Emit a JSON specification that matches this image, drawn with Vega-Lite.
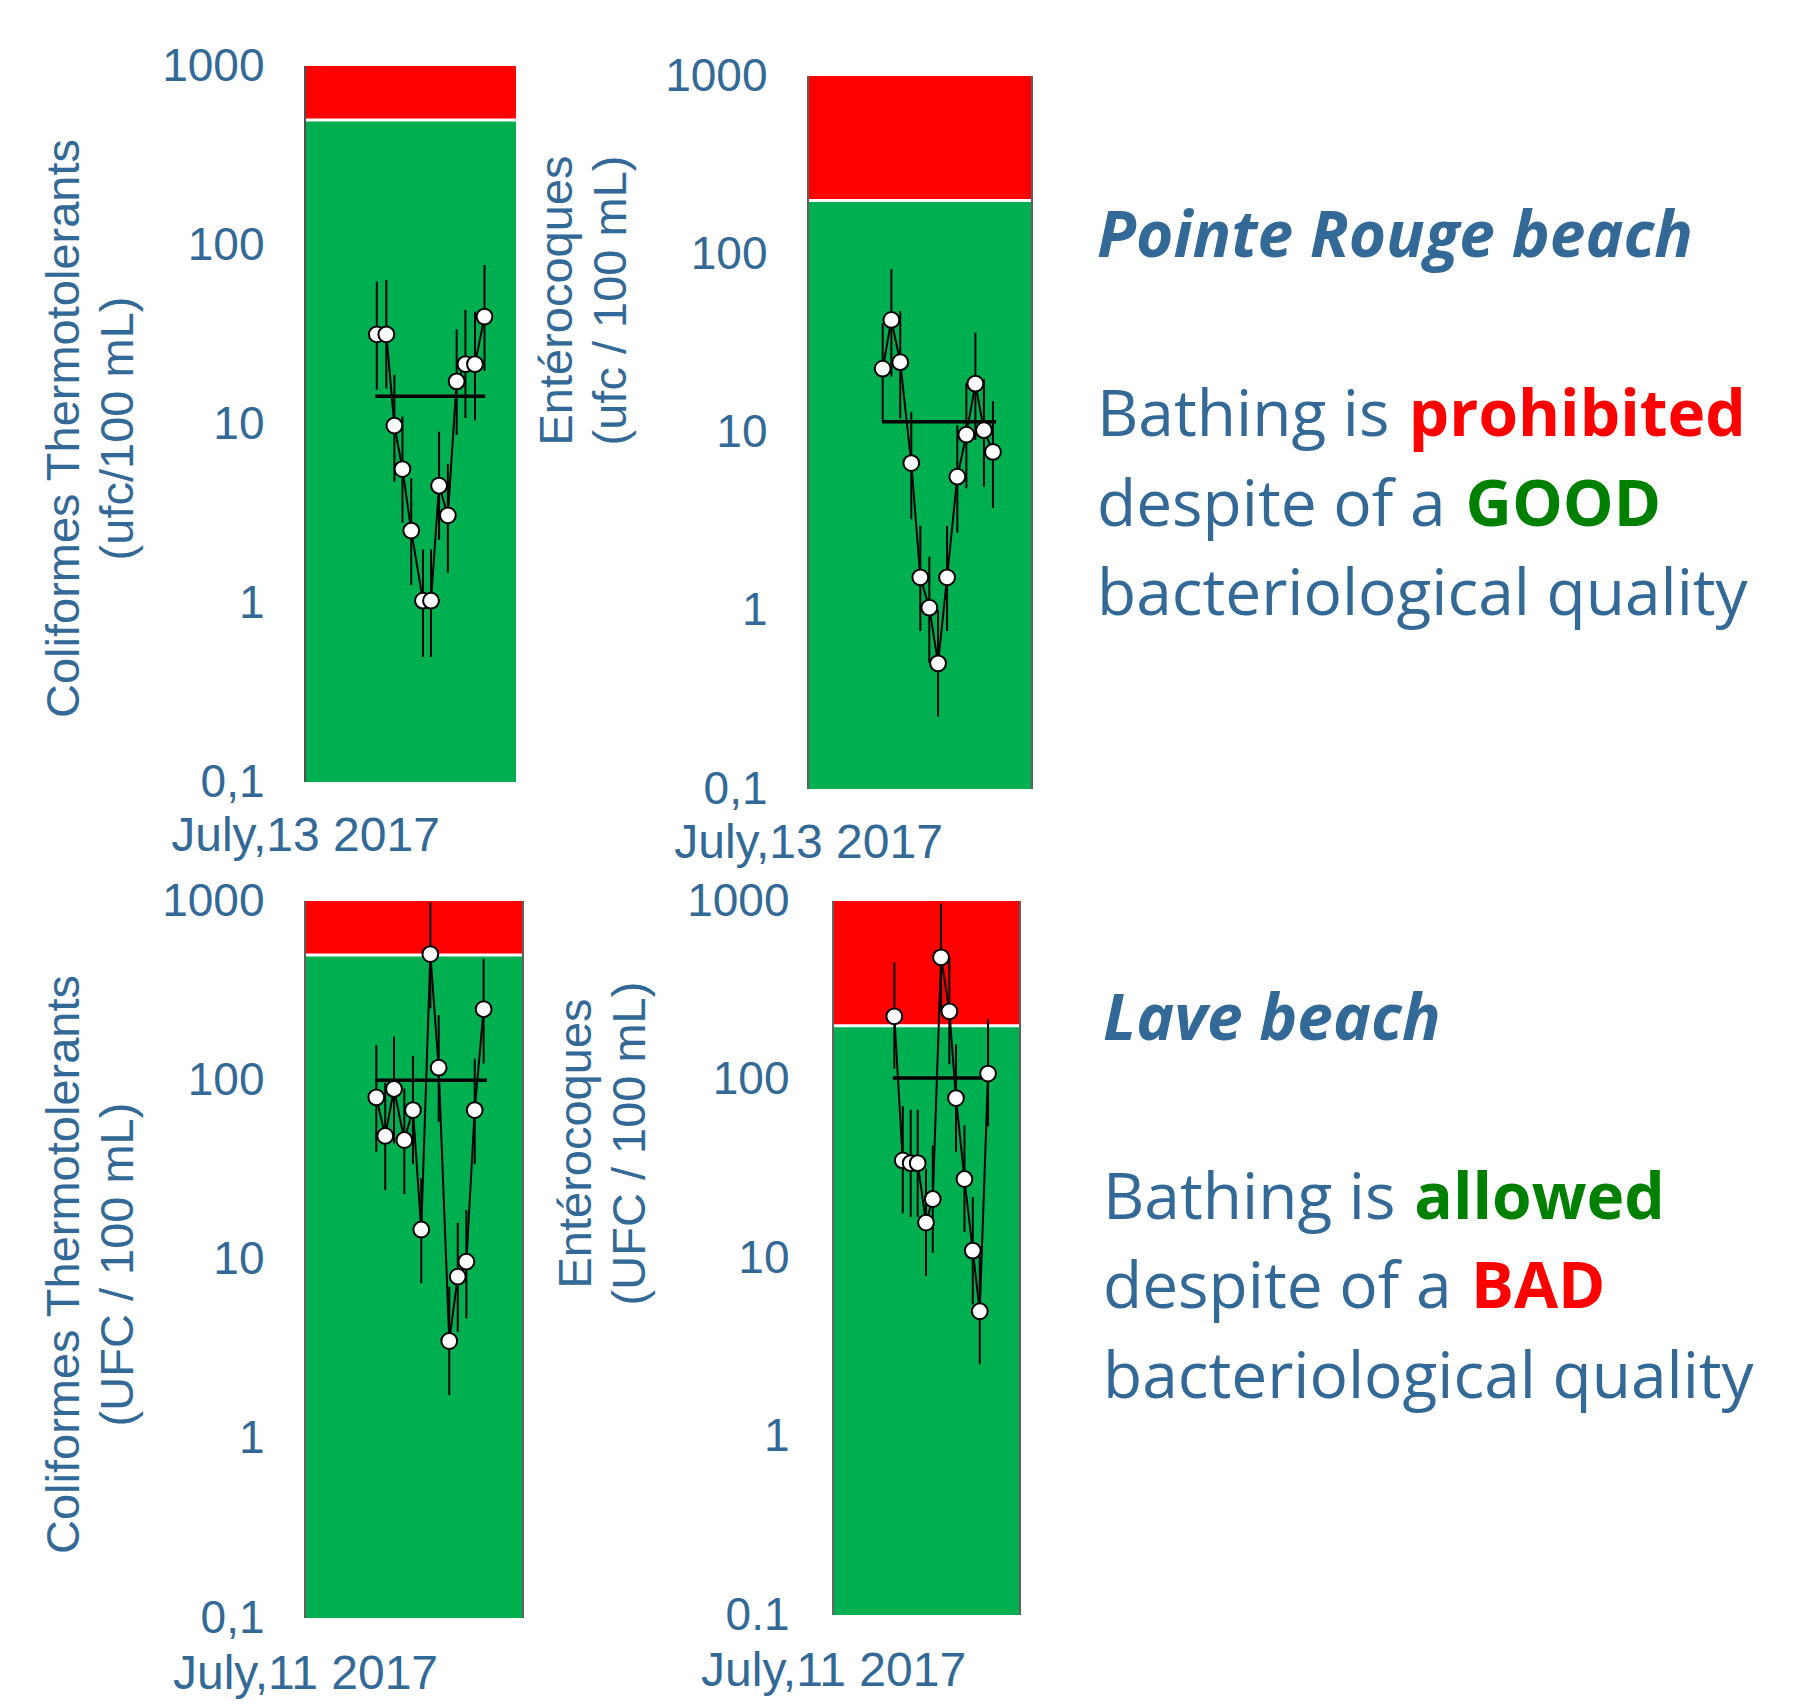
{
  "$schema": "https://vega.github.io/schema/vega-lite/v6.json",
  "background": "white",
  "padding": {"left": 40, "top": 43, "right": 10, "bottom": 10},
  "config": {"view": {"stroke": null}},
  "columns": 2,
  "align": {"row": "each", "column": "none"},
  "bounds": "flush",
  "spacing": {"row": 112, "column": 285},
  "datasets": {
    "frame_p1": [{"start": "2017-07-13T00:00", "end": "2017-07-14T00:00", "bottom": 0.1, "top": 1000, "threshold": 500}],
    "frame_p2": [{"start": "2017-07-13T00:00", "end": "2017-07-14T00:00", "bottom": 0.1, "top": 1000, "threshold": 200}],
    "frame_p3": [{"start": "2017-07-11T00:00", "end": "2017-07-12T00:00", "bottom": 0.1, "top": 1000, "threshold": 500}],
    "frame_p4": [{"start": "2017-07-11T00:00", "end": "2017-07-12T00:00", "bottom": 0.1, "top": 1000, "threshold": 200}],
    "mean_p1": [{"start": "2017-07-13T08:00", "end": "2017-07-13T20:30", "mean": 14.3}],
    "mean_p2": [{"start": "2017-07-13T07:56", "end": "2017-07-13T20:09", "mean": 11.5}],
    "mean_p3": [{"start": "2017-07-11T07:44", "end": "2017-07-11T20:02", "mean": 100}],
    "mean_p4": [{"start": "2017-07-11T07:40", "end": "2017-07-11T19:59", "mean": 102}],
    "pts_p1": [
      {"t": "2017-07-13T08:10", "v": 31.7, "lo": 15.5, "hi": 62.4},
      {"t": "2017-07-13T09:15", "v": 31.7, "lo": 15.8, "hi": 63.7},
      {"t": "2017-07-13T10:10", "v": 9.8, "lo": 4.76, "hi": 18.8},
      {"t": "2017-07-13T11:05", "v": 5.6, "lo": 2.81, "hi": 11.0},
      {"t": "2017-07-13T12:05", "v": 2.54, "lo": 1.26, "hi": 4.97},
      {"t": "2017-07-13T13:25", "v": 1.03, "lo": 0.5, "hi": 1.99},
      {"t": "2017-07-13T14:20", "v": 1.03, "lo": 0.5, "hi": 1.99},
      {"t": "2017-07-13T15:15", "v": 4.52, "lo": 2.25, "hi": 9.06},
      {"t": "2017-07-13T16:15", "v": 3.09, "lo": 1.48, "hi": 5.98},
      {"t": "2017-07-13T17:15", "v": 17.3, "lo": 8.68, "hi": 33.8},
      {"t": "2017-07-13T18:15", "v": 21.6, "lo": 10.8, "hi": 43.4},
      {"t": "2017-07-13T19:20", "v": 21.6, "lo": 10.5, "hi": 42.4},
      {"t": "2017-07-13T20:25", "v": 39.8, "lo": 19.8, "hi": 77.3}
    ],
    "pts_p2": [
      {"t": "2017-07-13T08:00", "v": 22.8, "lo": 11.5, "hi": 41},
      {"t": "2017-07-13T08:56", "v": 42.8, "lo": 20.6, "hi": 82.3},
      {"t": "2017-07-13T09:53", "v": 24.8, "lo": 12.0, "hi": 48},
      {"t": "2017-07-13T11:04", "v": 6.74, "lo": 3.26, "hi": 13.0},
      {"t": "2017-07-13T12:02", "v": 1.54, "lo": 0.77, "hi": 2.99},
      {"t": "2017-07-13T13:00", "v": 1.04, "lo": 0.51, "hi": 2.01},
      {"t": "2017-07-13T13:56", "v": 0.507, "lo": 0.255, "hi": 1.01},
      {"t": "2017-07-13T14:54", "v": 1.54, "lo": 0.77, "hi": 2.99},
      {"t": "2017-07-13T16:00", "v": 5.65, "lo": 2.74, "hi": 11.0},
      {"t": "2017-07-13T16:58", "v": 9.72, "lo": 4.86, "hi": 18.9},
      {"t": "2017-07-13T17:56", "v": 18.8, "lo": 9.08, "hi": 36.3},
      {"t": "2017-07-13T18:51", "v": 10.3, "lo": 4.97, "hi": 19.9},
      {"t": "2017-07-13T19:49", "v": 7.78, "lo": 3.78, "hi": 15.0}
    ],
    "pts_p3": [
      {"t": "2017-07-11T07:51", "v": 80.3, "lo": 39.9, "hi": 157},
      {"t": "2017-07-11T08:50", "v": 48.9, "lo": 24.4, "hi": 97},
      {"t": "2017-07-11T09:48", "v": 89.4, "lo": 44.5, "hi": 175},
      {"t": "2017-07-11T10:56", "v": 46.4, "lo": 23.2, "hi": 90},
      {"t": "2017-07-11T11:53", "v": 68.2, "lo": 34, "hi": 136.5},
      {"t": "2017-07-11T12:48", "v": 14.7, "lo": 7.37, "hi": 28.4},
      {"t": "2017-07-11T13:48", "v": 506, "lo": 252, "hi": 980},
      {"t": "2017-07-11T14:43", "v": 117.5, "lo": 58.7, "hi": 231},
      {"t": "2017-07-11T15:53", "v": 3.51, "lo": 1.75, "hi": 7.05},
      {"t": "2017-07-11T16:49", "v": 8.02, "lo": 3.95, "hi": 16.0},
      {"t": "2017-07-11T17:46", "v": 9.72, "lo": 4.7, "hi": 18.9},
      {"t": "2017-07-11T18:41", "v": 68.2, "lo": 34, "hi": 132},
      {"t": "2017-07-11T19:40", "v": 249, "lo": 124, "hi": 475}
    ],
    "pts_p4": [
      {"t": "2017-07-11T07:52", "v": 226, "lo": 115, "hi": 453},
      {"t": "2017-07-11T08:57", "v": 35.2, "lo": 17.8, "hi": 70.8},
      {"t": "2017-07-11T09:58", "v": 34, "lo": 17.0, "hi": 67.6},
      {"t": "2017-07-11T10:52", "v": 34, "lo": 17.0, "hi": 67.6},
      {"t": "2017-07-11T11:56", "v": 15.8, "lo": 7.94, "hi": 31.6},
      {"t": "2017-07-11T12:48", "v": 21.4, "lo": 10.7, "hi": 42.7},
      {"t": "2017-07-11T13:52", "v": 483, "lo": 244, "hi": 970},
      {"t": "2017-07-11T14:56", "v": 241, "lo": 121.6, "hi": 483},
      {"t": "2017-07-11T15:47", "v": 78.7, "lo": 39.4, "hi": 157},
      {"t": "2017-07-11T16:52", "v": 27.7, "lo": 14.0, "hi": 55.3},
      {"t": "2017-07-11T17:56", "v": 11.0, "lo": 5.5, "hi": 21.9},
      {"t": "2017-07-11T18:50", "v": 5.03, "lo": 2.54, "hi": 10.2},
      {"t": "2017-07-11T19:54", "v": 108, "lo": 54.6, "hi": 217}
    ],
    "text_pr": [
      {"line": 0, "col": 0, "text": "Pointe Rouge beach", "role": "heading"},
      {"line": 2, "col": 0, "text": "Bathing is", "role": "body"},
      {"line": 2, "col": 11, "text": "prohibited", "role": "bad"},
      {"line": 3, "col": 0, "text": "despite of a", "role": "body"},
      {"line": 3, "col": 13, "text": "GOOD", "role": "good"},
      {"line": 4, "col": 0, "text": "bacteriological quality", "role": "body"}
    ],
    "text_lave": [
      {"line": 0, "col": 0, "text": "Lave beach", "role": "heading"},
      {"line": 2, "col": 0, "text": "Bathing is", "role": "body"},
      {"line": 2, "col": 11, "text": "allowed", "role": "good"},
      {"line": 3, "col": 0, "text": "despite of a", "role": "body"},
      {"line": 3, "col": 13, "text": "BAD", "role": "bad"},
      {"line": 4, "col": 0, "text": "bacteriological quality", "role": "body"}
    ]
  },
  "concat": [
    {
      "width": 211, "height": 716,
      "layer": [
        {"data": {"name": "frame_p1"}, "mark": {"type": "rect", "fill": "#00B050"},
          "encoding": {
            "x": {"field": "start", "type": "temporal",
              "scale": {"domain": [{"year": 2017, "month": 7, "date": 13}, {"year": 2017, "month": 7, "date": 14}]},
              "axis": {"values": [{"year": 2017, "month": 7, "date": 13}], "format": "%B,%d %Y", "labelFlush": false, "labelOverlap": false, "labelBound": false, "labelLimit": 0, "ticks": false, "domain": false, "grid": false, "labelFont": "Liberation Sans", "labelFontSize": 48, "labelColor": "#336996", "labelPadding": 30, "title": null}},
            "x2": {"field": "end"},
            "y": {"field": "bottom", "type": "quantitative",
              "scale": {"type": "log", "domain": [0.1, 1000], "nice": false},
              "axis": {"values": [0.1, 1, 10, 100, 1000], "labelExpr": "datum.value < 1 ? '0,1' : '' + datum.value", "ticks": false, "domain": false, "grid": false, "labelFont": "Liberation Sans", "labelFontSize": 46, "labelColor": "#336996", "labelPadding": 41,
                "title": ["Coliformes Thermotolerants", "(ufc/100 mL)"], "titleFont": "Liberation Sans", "titleFontSize": 47, "titleFontWeight": "normal", "titleColor": "#336996", "titleLineHeight": 54, "titleAngle": 270, "titleBaseline": "bottom", "titleAlign": "center", "titleX": -217, "titleY": 362}},
            "y2": {"field": "threshold"}}},
        {"data": {"name": "frame_p1"}, "mark": {"type": "rect", "fill": "#FF0000"},
          "encoding": {"x": {"field": "start", "type": "temporal"}, "x2": {"field": "end"}, "y": {"field": "threshold", "type": "quantitative"}, "y2": {"field": "top"}}},
        {"data": {"name": "frame_p1"}, "mark": {"type": "rule", "stroke": "white", "strokeWidth": 3},
          "encoding": {"x": {"field": "start", "type": "temporal"}, "x2": {"field": "end"}, "y": {"field": "threshold", "type": "quantitative"}}},
        {"data": {"name": "frame_p1"}, "mark": {"type": "rule", "stroke": "#505050", "strokeWidth": 2},
          "encoding": {"x": {"field": "start", "type": "temporal"}, "y": {"field": "bottom", "type": "quantitative"}, "y2": {"field": "top"}}},
        {"data": {"name": "pts_p1"}, "mark": {"type": "rule", "stroke": "black", "strokeWidth": 2},
          "encoding": {"x": {"field": "t", "type": "temporal"}, "y": {"field": "lo", "type": "quantitative"}, "y2": {"field": "hi"}}},
        {"data": {"name": "pts_p1"}, "mark": {"type": "line", "stroke": "black", "strokeWidth": 2},
          "encoding": {"x": {"field": "t", "type": "temporal"}, "y": {"field": "v", "type": "quantitative"}}},
        {"data": {"name": "mean_p1"}, "mark": {"type": "rule", "stroke": "black", "strokeWidth": 3.5},
          "encoding": {"x": {"field": "start", "type": "temporal"}, "x2": {"field": "end"}, "y": {"field": "mean", "type": "quantitative"}}},
        {"data": {"name": "pts_p1"}, "mark": {"type": "circle", "size": 250, "fill": "white", "stroke": "black", "strokeWidth": 2, "opacity": 1},
          "encoding": {"x": {"field": "t", "type": "temporal"}, "y": {"field": "v", "type": "quantitative"}}}
      ]
    },
    {
      "width": 224, "height": 723,
      "resolve": {"scale": {"x": "independent", "y": "independent"}},
      "layer": [
        {"layer": [
          {"data": {"name": "frame_p2"}, "mark": {"type": "rect", "fill": "#00B050"},
            "encoding": {
              "x": {"field": "start", "type": "temporal",
                "scale": {"domain": [{"year": 2017, "month": 7, "date": 13}, {"year": 2017, "month": 7, "date": 14}]},
                "axis": {"values": [{"year": 2017, "month": 7, "date": 13}], "format": "%B,%d %Y", "labelFlush": false, "labelOverlap": false, "labelBound": false, "labelLimit": 0, "ticks": false, "domain": false, "grid": false, "labelFont": "Liberation Sans", "labelFontSize": 48, "labelColor": "#336996", "labelPadding": 30, "title": null}},
              "x2": {"field": "end"},
              "y": {"field": "bottom", "type": "quantitative",
                "scale": {"type": "log", "domain": [0.1, 1138], "nice": false},
                "axis": {"values": [0.1, 1, 10, 100, 1000], "labelExpr": "datum.value < 1 ? '0,1' : '' + datum.value", "ticks": false, "domain": false, "grid": false, "labelFont": "Liberation Sans", "labelFontSize": 46, "labelColor": "#336996", "labelPadding": 41,
                  "title": ["Entérocoques", "(ufc / 100 mL)"], "titleFont": "Liberation Sans", "titleFontSize": 47, "titleFontWeight": "normal", "titleColor": "#336996", "titleLineHeight": 54, "titleAngle": 270, "titleBaseline": "bottom", "titleAlign": "center", "titleX": -227, "titleY": 234}},
              "y2": {"field": "threshold"}}},
          {"data": {"name": "frame_p2"}, "mark": {"type": "rect", "fill": "#FF0000"},
            "encoding": {"x": {"field": "start", "type": "temporal"}, "x2": {"field": "end"}, "y": {"field": "threshold", "type": "quantitative"}, "y2": {"field": "top"}}},
          {"data": {"name": "frame_p2"}, "mark": {"type": "rule", "stroke": "white", "strokeWidth": 3},
            "encoding": {"x": {"field": "start", "type": "temporal"}, "x2": {"field": "end"}, "y": {"field": "threshold", "type": "quantitative"}}},
          {"data": {"name": "frame_p2"}, "mark": {"type": "rule", "stroke": "#606060", "strokeWidth": 2},
            "encoding": {"x": {"field": "start", "type": "temporal"}, "y": {"field": "bottom", "type": "quantitative"}, "y2": {"field": "top"}}},
          {"data": {"name": "frame_p2"}, "mark": {"type": "rule", "stroke": "#606060", "strokeWidth": 2},
            "encoding": {"x": {"field": "end", "type": "temporal"}, "y": {"field": "bottom", "type": "quantitative"}, "y2": {"field": "top"}}},
          {"data": {"name": "pts_p2"}, "mark": {"type": "rule", "stroke": "black", "strokeWidth": 2},
            "encoding": {"x": {"field": "t", "type": "temporal"}, "y": {"field": "lo", "type": "quantitative"}, "y2": {"field": "hi"}}},
          {"data": {"name": "pts_p2"}, "mark": {"type": "line", "stroke": "black", "strokeWidth": 2},
            "encoding": {"x": {"field": "t", "type": "temporal"}, "y": {"field": "v", "type": "quantitative"}}},
          {"data": {"name": "mean_p2"}, "mark": {"type": "rule", "stroke": "black", "strokeWidth": 3.5},
            "encoding": {"x": {"field": "start", "type": "temporal"}, "x2": {"field": "end"}, "y": {"field": "mean", "type": "quantitative"}}},
          {"data": {"name": "pts_p2"}, "mark": {"type": "circle", "size": 250, "fill": "white", "stroke": "black", "strokeWidth": 2, "opacity": 1},
            "encoding": {"x": {"field": "t", "type": "temporal"}, "y": {"field": "v", "type": "quantitative"}}}
        ]},
        {"data": {"name": "text_pr"},
          "encoding": {
            "x": {"field": "col", "type": "quantitative", "scale": {"domain": [-10.194, -2.293], "nice": false, "zero": false}, "axis": null},
            "y": {"field": "line", "type": "quantitative", "scale": {"domain": [-2.134, 5.944], "reverse": true, "nice": false, "zero": false}, "axis": null},
            "text": {"field": "text"},
            "color": {"field": "role", "type": "nominal", "scale": {"domain": ["heading", "body", "good", "bad"], "range": ["#336996", "#336996", "#008000", "#FF0000"]}, "legend": null}
          },
          "layer": [
            {"transform": [{"filter": "datum.role === 'heading'"}], "mark": {"type": "text", "align": "left", "baseline": "alphabetic", "font": "Open Sans", "fontSize": 64, "fontWeight": "bold", "fontStyle": "italic"}},
            {"transform": [{"filter": "datum.role === 'good' || datum.role === 'bad'"}], "mark": {"type": "text", "align": "left", "baseline": "alphabetic", "font": "Open Sans", "fontSize": 64, "fontWeight": "bold"}},
            {"transform": [{"filter": "datum.role === 'body'"}], "mark": {"type": "text", "align": "left", "baseline": "alphabetic", "font": "Open Sans", "fontSize": 64, "fontWeight": "normal"}}
          ]}
      ]
    },
    {
      "width": 218, "height": 717,
      "layer": [
        {"data": {"name": "frame_p3"}, "mark": {"type": "rect", "fill": "#00B050"},
          "encoding": {
            "x": {"field": "start", "type": "temporal",
              "scale": {"domain": [{"year": 2017, "month": 7, "date": 11}, {"year": 2017, "month": 7, "date": 12}]},
              "axis": {"values": [{"year": 2017, "month": 7, "date": 11}], "format": "%B,%d %Y", "labelFlush": false, "labelOverlap": false, "labelBound": false, "labelLimit": 0, "ticks": false, "domain": false, "grid": false, "labelFont": "Liberation Sans", "labelFontSize": 48, "labelColor": "#336996", "labelPadding": 32, "title": null}},
            "x2": {"field": "end"},
            "y": {"field": "bottom", "type": "quantitative",
              "scale": {"type": "log", "domain": [0.1, 1000], "nice": false},
              "axis": {"values": [0.1, 1, 10, 100, 1000], "labelExpr": "datum.value < 1 ? '0,1' : '' + datum.value", "ticks": false, "domain": false, "grid": false, "labelFont": "Liberation Sans", "labelFontSize": 46, "labelColor": "#336996", "labelPadding": 41,
                "title": ["Coliformes Thermotolerants", "(UFC / 100 mL)"], "titleFont": "Liberation Sans", "titleFontSize": 47, "titleFontWeight": "normal", "titleColor": "#336996", "titleLineHeight": 54, "titleAngle": 270, "titleBaseline": "bottom", "titleAlign": "center", "titleX": -217, "titleY": 363}},
            "y2": {"field": "threshold"}}},
        {"data": {"name": "frame_p3"}, "mark": {"type": "rect", "fill": "#FF0000"},
          "encoding": {"x": {"field": "start", "type": "temporal"}, "x2": {"field": "end"}, "y": {"field": "threshold", "type": "quantitative"}, "y2": {"field": "top"}}},
        {"data": {"name": "frame_p3"}, "mark": {"type": "rule", "stroke": "white", "strokeWidth": 3},
          "encoding": {"x": {"field": "start", "type": "temporal"}, "x2": {"field": "end"}, "y": {"field": "threshold", "type": "quantitative"}}},
        {"data": {"name": "frame_p3"}, "mark": {"type": "rule", "stroke": "#606060", "strokeWidth": 2},
          "encoding": {"x": {"field": "start", "type": "temporal"}, "y": {"field": "bottom", "type": "quantitative"}, "y2": {"field": "top"}}},
        {"data": {"name": "frame_p3"}, "mark": {"type": "rule", "stroke": "#606060", "strokeWidth": 2},
          "encoding": {"x": {"field": "end", "type": "temporal"}, "y": {"field": "bottom", "type": "quantitative"}, "y2": {"field": "top"}}},
        {"data": {"name": "pts_p3"}, "mark": {"type": "rule", "stroke": "black", "strokeWidth": 2},
          "encoding": {"x": {"field": "t", "type": "temporal"}, "y": {"field": "lo", "type": "quantitative"}, "y2": {"field": "hi"}}},
        {"data": {"name": "pts_p3"}, "mark": {"type": "line", "stroke": "black", "strokeWidth": 2},
          "encoding": {"x": {"field": "t", "type": "temporal"}, "y": {"field": "v", "type": "quantitative"}}},
        {"data": {"name": "mean_p3"}, "mark": {"type": "rule", "stroke": "black", "strokeWidth": 3.5},
          "encoding": {"x": {"field": "start", "type": "temporal"}, "x2": {"field": "end"}, "y": {"field": "mean", "type": "quantitative"}}},
        {"data": {"name": "pts_p3"}, "mark": {"type": "circle", "size": 250, "fill": "white", "stroke": "black", "strokeWidth": 2, "opacity": 1},
          "encoding": {"x": {"field": "t", "type": "temporal"}, "y": {"field": "v", "type": "quantitative"}}}
      ]
    },
    {
      "width": 212, "height": 714,
      "resolve": {"scale": {"x": "independent", "y": "independent"}},
      "layer": [
        {"layer": [
          {"data": {"name": "frame_p4"}, "mark": {"type": "rect", "fill": "#00B050"},
            "encoding": {
              "x": {"field": "start", "type": "temporal",
                "scale": {"domain": [{"year": 2017, "month": 7, "date": 10, "hours": 20, "minutes": 47}, {"year": 2017, "month": 7, "date": 12}]},
                "axis": {"values": [{"year": 2017, "month": 7, "date": 11}], "format": "%B,%d %Y", "labelFlush": false, "labelOverlap": false, "labelBound": false, "labelLimit": 0, "ticks": false, "domain": false, "grid": false, "labelFont": "Liberation Sans", "labelFontSize": 48, "labelColor": "#336996", "labelPadding": 32, "title": null}},
              "x2": {"field": "end"},
              "y": {"field": "bottom", "type": "quantitative",
                "scale": {"type": "log", "domain": [0.1, 1000], "nice": false},
                "axis": {"offset": -25, "values": [0.1, 1, 10, 100, 1000], "labelExpr": "'' + datum.value", "ticks": false, "domain": false, "grid": false, "labelFont": "Liberation Sans", "labelFontSize": 46, "labelColor": "#336996", "labelPadding": 44,
                  "title": ["Entérocoques", "(UFC / 100 mL)"], "titleFont": "Liberation Sans", "titleFontSize": 47, "titleFontWeight": "normal", "titleColor": "#336996", "titleLineHeight": 54, "titleAngle": 270, "titleBaseline": "bottom", "titleAlign": "center", "titleX": -233, "titleY": 242}},
              "y2": {"field": "threshold"}}},
          {"data": {"name": "frame_p4"}, "mark": {"type": "rect", "fill": "#FF0000"},
            "encoding": {"x": {"field": "start", "type": "temporal"}, "x2": {"field": "end"}, "y": {"field": "threshold", "type": "quantitative"}, "y2": {"field": "top"}}},
          {"data": {"name": "frame_p4"}, "mark": {"type": "rule", "stroke": "white", "strokeWidth": 3},
            "encoding": {"x": {"field": "start", "type": "temporal"}, "x2": {"field": "end"}, "y": {"field": "threshold", "type": "quantitative"}}},
          {"data": {"name": "frame_p4"}, "mark": {"type": "rule", "stroke": "#606060", "strokeWidth": 2},
            "encoding": {"x": {"field": "start", "type": "temporal"}, "y": {"field": "bottom", "type": "quantitative"}, "y2": {"field": "top"}}},
          {"data": {"name": "frame_p4"}, "mark": {"type": "rule", "stroke": "#606060", "strokeWidth": 2},
            "encoding": {"x": {"field": "end", "type": "temporal"}, "y": {"field": "bottom", "type": "quantitative"}, "y2": {"field": "top"}}},
          {"data": {"name": "pts_p4"}, "mark": {"type": "rule", "stroke": "black", "strokeWidth": 2},
            "encoding": {"x": {"field": "t", "type": "temporal"}, "y": {"field": "lo", "type": "quantitative"}, "y2": {"field": "hi"}}},
          {"data": {"name": "pts_p4"}, "mark": {"type": "line", "stroke": "black", "strokeWidth": 2},
            "encoding": {"x": {"field": "t", "type": "temporal"}, "y": {"field": "v", "type": "quantitative"}}},
          {"data": {"name": "mean_p4"}, "mark": {"type": "rule", "stroke": "black", "strokeWidth": 3.5},
            "encoding": {"x": {"field": "start", "type": "temporal"}, "x2": {"field": "end"}, "y": {"field": "mean", "type": "quantitative"}}},
          {"data": {"name": "pts_p4"}, "mark": {"type": "circle", "size": 250, "fill": "white", "stroke": "black", "strokeWidth": 2, "opacity": 1},
            "encoding": {"x": {"field": "t", "type": "temporal"}, "y": {"field": "v", "type": "quantitative"}}}
        ]},
        {"data": {"name": "text_lave"},
          "encoding": {
            "x": {"field": "col", "type": "quantitative", "scale": {"domain": [-10.424, -2.933], "nice": false, "zero": false}, "axis": null},
            "y": {"field": "line", "type": "quantitative", "scale": {"domain": [-1.553, 6.425], "reverse": true, "nice": false, "zero": false}, "axis": null},
            "text": {"field": "text"},
            "color": {"field": "role", "type": "nominal", "scale": {"domain": ["heading", "body", "good", "bad"], "range": ["#336996", "#336996", "#008000", "#FF0000"]}, "legend": null}
          },
          "layer": [
            {"transform": [{"filter": "datum.role === 'heading'"}], "mark": {"type": "text", "align": "left", "baseline": "alphabetic", "font": "Open Sans", "fontSize": 64, "fontWeight": "bold", "fontStyle": "italic"}},
            {"transform": [{"filter": "datum.role === 'good' || datum.role === 'bad'"}], "mark": {"type": "text", "align": "left", "baseline": "alphabetic", "font": "Open Sans", "fontSize": 64, "fontWeight": "bold"}},
            {"transform": [{"filter": "datum.role === 'body'"}], "mark": {"type": "text", "align": "left", "baseline": "alphabetic", "font": "Open Sans", "fontSize": 64, "fontWeight": "normal"}}
          ]}
      ]
    }
  ]
}
